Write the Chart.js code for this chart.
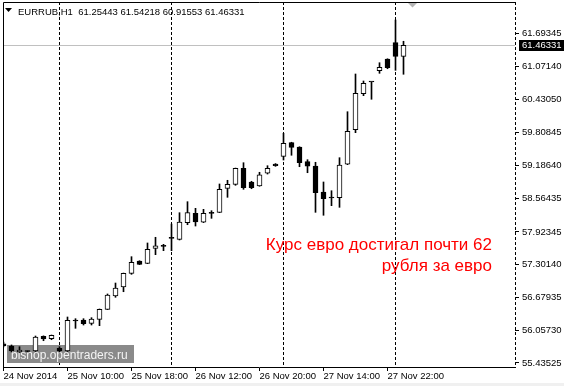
<!DOCTYPE html>
<html lang="en">

<head>
    <meta charset="UTF-8">
    <title>EURRUB,H1</title>
    <script src="https://cdn.jsdelivr.net/npm/chart.js@4.4.1/dist/chart.umd.min.js"></script>
    <style>
        html, body { margin: 0; padding: 0; background: #fff; }
        #cvs { width: 564px; height: 386px; }
    </style>
</head>

<body>
    <div id="cvs">
        <canvas id="myChart" width="564" height="386"></canvas>
    </div>
    <script>
        // EURRUB H1 candles, 24 Nov 16:00 .. 28 Nov 10:00
        var opens  = [55.800, 55.758, 55.644, 55.653, 55.663, 55.941, 55.896, 55.714, 55.663, 56.232,
                      56.251, 56.188, 56.264, 56.454, 56.707, 56.877, 57.137, 57.371, 57.327, 57.612,
                      57.650, 57.802, 57.783, 58.098, 58.276, 58.106, 58.276, 58.295, 58.751, 58.827,
                      59.131, 58.871, 58.795, 59.036, 59.212, 59.358, 59.617, 59.535, 59.256, 59.174,
                      58.681, 58.567, 58.573, 59.207, 59.863, 60.547, 60.769, 60.983, 61.206, 61.515,
                      61.25443];
        var highs  = [55.833, 55.777, 55.744, 55.663, 55.947, 55.950, 55.966, 55.744, 56.308, 56.276,
                      56.276, 56.295, 56.460, 56.745, 56.953, 57.142, 57.453, 57.376, 57.713, 57.821,
                      57.688, 58.073, 58.288, 58.497, 58.371, 58.352, 58.326, 58.833, 58.903, 59.135,
                      59.237, 58.884, 59.055, 59.180, 59.220, 59.795, 59.625, 59.540, 59.294, 59.245,
                      58.871, 58.705, 59.332, 60.205, 60.921, 60.788, 60.769, 61.135, 61.210, 61.946,
                      61.54218];
        var lows   = [55.739, 55.644, 55.634, 55.644, 55.653, 55.858, 55.877, 55.644, 55.653, 56.093,
                      56.156, 56.156, 56.143, 56.450, 56.682, 56.788, 57.118, 57.302, 57.320, 57.491,
                      57.567, 57.567, 57.770, 58.060, 58.035, 58.100, 58.181, 58.290, 58.580, 58.808,
                      58.732, 58.743, 58.790, 59.022, 59.168, 59.288, 59.378, 59.161, 59.047, 58.295,
                      58.239, 58.421, 58.390, 59.200, 59.807, 60.509, 60.441, 60.934, 61.021, 60.991,
                      60.91553];
        var closes = [55.758, 55.663, 55.682, 55.653, 55.928, 55.890, 55.961, 55.663, 56.245, 56.232,
                      56.181, 56.270, 56.454, 56.726, 56.858, 57.137, 57.346, 57.308, 57.593, 57.661,
                      57.650, 57.802, 58.111, 58.288, 58.111, 58.276, 58.276, 58.732, 58.827, 59.131,
                      58.762, 58.762, 59.009, 59.131, 59.180, 59.605, 59.529, 59.237, 59.169, 58.668,
                      58.554, 58.567, 59.193, 59.833, 60.554, 60.744, 60.769, 61.048, 61.040, 61.254,
                      61.46331];

        var xTickPos = [0, 8, 16, 24, 32, 40, 48];
        var xTickLabels = ['24 Nov 2014', '25 Nov 10:00', '25 Nov 18:00', '26 Nov 12:00',
                           '26 Nov 20:00', '27 Nov 14:00', '27 Nov 22:00'];
        var yTicks = [55.43525, 56.05730, 56.67935, 57.30140, 57.92345, 58.56435,
                      59.18640, 59.80845, 60.43050, 61.07140, 61.69345];
        var separators = [7, 21, 35, 49];   // first bar of each new day
        var lastPrice = 61.46331;
        var title = 'EURRUB,H1  61.25443 61.54218 60.91553 61.46331';
        var note = ['Курс евро достигал почти 62', 'рубля за евро'];
        var watermark = 'bisnop.opentraders.ru';

        var wicks = [], bodies = [], bodyFill = [];
        for (var i = 0; i < opens.length; i++) {
            wicks.push({ x: i, y: [lows[i], highs[i]] });
            bodies.push({ x: i, y: [opens[i], closes[i]] });
            bodyFill.push(closes[i] > opens[i] ? '#ffffff' : '#000000');
        }

        var axisFont = { family: 'Liberation Sans', size: 9.5 };

        var extras = {
            id: 'extras',
            beforeDraw: function (chart) {
                var ctx = chart.ctx;
                ctx.save();
                ctx.fillStyle = '#ffffff';
                ctx.fillRect(0, 0, chart.width, chart.height);
                ctx.fillStyle = '#f0f0f0';
                ctx.fillRect(0, 383, chart.width, chart.height - 383);
                ctx.restore();
            },
            beforeDatasetsDraw: function (chart) {
                var ctx = chart.ctx, a = chart.chartArea;
                var xs = chart.scales.x, ys = chart.scales.y;
                ctx.save();
                // period separators
                ctx.strokeStyle = '#000000';
                ctx.lineWidth = 1;
                ctx.setLineDash([3, 2]);
                separators.forEach(function (s) {
                    var px = Math.round(xs.getPixelForValue(s) - 0.5) + 0.5;
                    ctx.beginPath();
                    ctx.moveTo(px, a.top);
                    ctx.lineTo(px, a.bottom);
                    ctx.stroke();
                });
                ctx.beginPath();
                ctx.moveTo(a.right + 0.5, a.top);
                ctx.lineTo(a.right + 0.5, a.bottom);
                ctx.stroke();
                ctx.setLineDash([]);
                // frame
                ctx.beginPath();
                ctx.moveTo(a.left + 0.5, a.bottom);
                ctx.lineTo(a.left + 0.5, a.top + 0.5);
                ctx.lineTo(a.right + 1, a.top + 0.5);
                ctx.stroke();
                // bid line
                var py = Math.round(ys.getPixelForValue(lastPrice)) + 0.5;
                ctx.strokeStyle = '#c0c0c0';
                ctx.beginPath();
                ctx.moveTo(a.left + 1, py);
                ctx.lineTo(a.right, py);
                ctx.stroke();
                // watermark
                ctx.fillStyle = '#8a8a8a';
                ctx.fillRect(7, 345, 127, 18);
                ctx.fillStyle = '#f4f4f4';
                ctx.font = '12px "Liberation Sans"';
                ctx.textBaseline = 'alphabetic';
                ctx.fillText(watermark, 11, 359);
                ctx.restore();
            },
            afterDatasetsDraw: function (chart) {
                var ctx = chart.ctx, a = chart.chartArea;
                var ys = chart.scales.y;
                ctx.save();
                // symbol header
                ctx.fillStyle = '#000000';
                ctx.beginPath();
                ctx.moveTo(5, 8);
                ctx.lineTo(12, 8);
                ctx.lineTo(8.5, 12);
                ctx.closePath();
                ctx.fill();
                ctx.font = '9.5px "Liberation Sans"';
                ctx.textBaseline = 'alphabetic';
                ctx.fillText(title, 18, 15);
                // chart shift marker
                ctx.fillStyle = '#b4b4b4';
                ctx.beginPath();
                ctx.moveTo(408, 3);
                ctx.lineTo(417, 3);
                ctx.lineTo(412.5, 7.5);
                ctx.closePath();
                ctx.fill();
                // red note
                ctx.fillStyle = '#ff0000';
                ctx.font = '17px "Liberation Sans"';
                ctx.textAlign = 'right';
                ctx.fillText(note[0], 492, 250);
                ctx.fillText(note[1], 492, 271);
                // last price tag
                var py = Math.round(ys.getPixelForValue(lastPrice));
                ctx.fillStyle = '#000000';
                ctx.fillRect(a.right + 4, py - 5, chart.width - a.right - 4, 11);
                ctx.fillStyle = '#ffffff';
                ctx.font = '9.5px "Liberation Sans"';
                ctx.textAlign = 'left';
                ctx.textBaseline = 'middle';
                ctx.fillText(lastPrice.toFixed(5), a.right + 7, py + 0.5);
                ctx.restore();
            }
        };

        var ctx = document.getElementById('myChart').getContext('2d');
        var myChart = new Chart(ctx, {
            type: 'bar',
            data: {
                datasets: [{
                    label: 'body',
                    data: bodies,
                    backgroundColor: bodyFill,
                    borderColor: '#000000',
                    borderWidth: 1,
                    borderSkipped: false,
                    barThickness: 5,
                    minBarLength: 1,
                    order: 0
                }, {
                    label: 'wick',
                    data: wicks,
                    backgroundColor: '#000000',
                    borderWidth: 0,
                    barThickness: 1,
                    minBarLength: 1,
                    order: 1
                }]
            },
            options: {
                responsive: false,
                animation: false,
                devicePixelRatio: 1,
                grouped: false,
                layout: { padding: { left: 3, top: 2, right: 0, bottom: 0 } },
                plugins: {
                    legend: { display: false },
                    tooltip: { enabled: false }
                },
                scales: {
                    x: {
                        type: 'linear',
                        min: -0.0625,
                        max: 63.9375,
                        offset: false,
                        bounds: 'data',
                        grid: { offset: false, drawOnChartArea: false, color: '#000000', tickLength: 4 },
                        border: { display: true, color: '#000000' },
                        ticks: {
                            autoSkip: false,
                            maxRotation: 0,
                            align: 'start',
                            padding: 0,
                            color: '#000000',
                            font: axisFont,
                            callback: function (v, idx) { return xTickLabels[idx]; }
                        },
                        afterBuildTicks: function (scale) {
                            scale.ticks = xTickPos.map(function (v) { return { value: v }; });
                        },
                        afterFit: function (scale) {
                            scale.height = 19;
                            scale.paddingLeft = 0;
                            scale.paddingRight = 0;
                        }
                    },
                    y: {
                        type: 'linear',
                        position: 'right',
                        min: 55.3588,
                        max: 62.2876,
                        bounds: 'data',
                        grid: { drawOnChartArea: false, color: '#000000', tickLength: 4 },
                        border: { display: false },
                        ticks: {
                            padding: 3,
                            color: '#000000',
                            font: axisFont,
                            callback: function (v) { return v.toFixed(5); }
                        },
                        afterBuildTicks: function (scale) {
                            scale.ticks = yTicks.map(function (v) { return { value: v }; });
                        },
                        afterFit: function (scale) {
                            scale.width = 49;
                            scale.paddingTop = 0;
                            scale.paddingBottom = 0;
                        }
                    }
                }
            },
            plugins: [extras]
        });
    </script>
</body>

</html>
